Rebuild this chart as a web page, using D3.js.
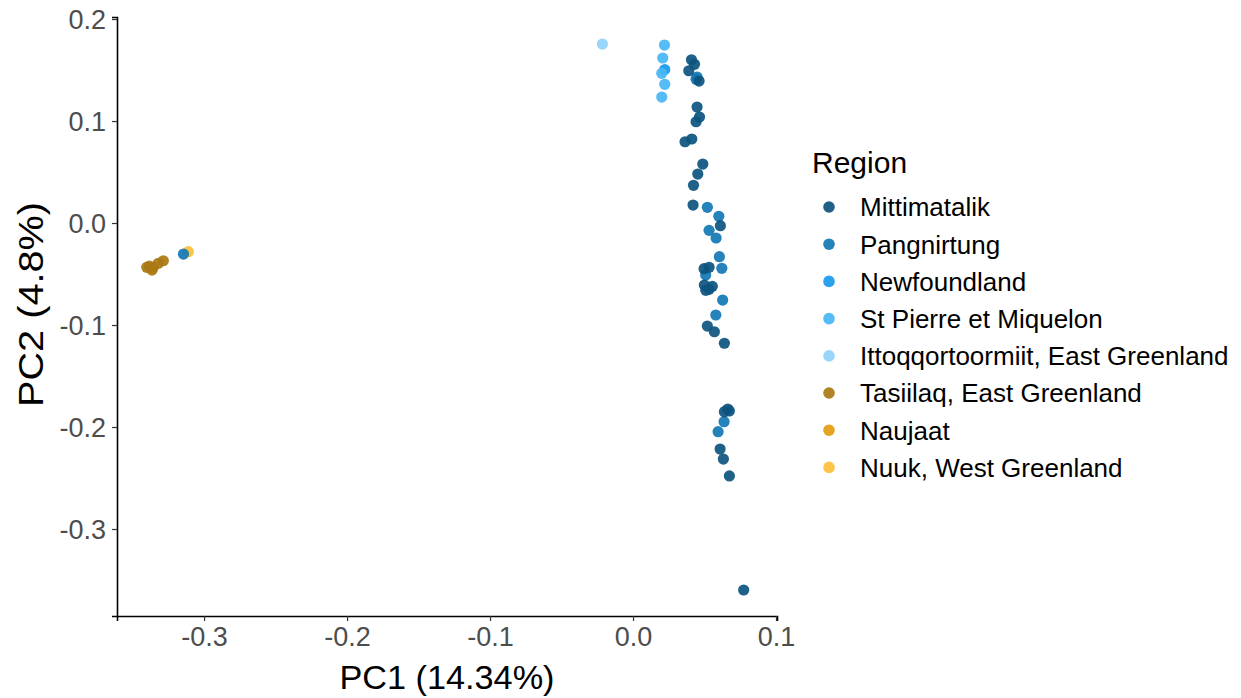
<!DOCTYPE html>
<html>
<head>
<meta charset="utf-8">
<script src="https://cdn.jsdelivr.net/npm/d3@7"></script>
<style>
  html, body { margin: 0; padding: 0; background: #fff; }
  svg { display: block; font-family: "Liberation Sans", Arial, Helvetica, sans-serif; }
</style>
</head>
<body>
<svg id="chart" width="1241" height="698"></svg>
<script>
// Regions in legend order, with their colours
const regions = [
  "Mittimatalik",
  "Pangnirtung",
  "Newfoundland",
  "St Pierre et Miquelon",
  "Ittoqqortoormiit, East Greenland",
  "Tasiilaq, East Greenland",
  "Naujaat",
  "Nuuk, West Greenland"
];
const regionColors = [
  "#0c547e", "#1277b5", "#1899ea", "#47b6f5",
  "#8fd2fc", "#aa7812", "#e59c0e", "#fdbf38"
];

// PCA scores per region: [PC1, PC2]
const mittimatalik = [
  [0.0409, 0.1601], [0.0430, 0.1556], [0.0390, 0.1493], [0.0462, 0.1392],
  [0.0448, 0.1137], [0.0465, 0.1039], [0.0441, 0.0993], [0.0411, 0.0824],
  [0.0364, 0.0797], [0.0488, 0.0578], [0.0453, 0.0480], [0.0423, 0.0370],
  [0.0420, 0.0176], [0.0611, -0.0026], [0.0497, -0.0448], [0.0532, -0.0434],
  [0.0499, -0.0608], [0.0555, -0.0621], [0.0509, -0.0660], [0.0532, -0.0650],
  [0.0520, -0.1010], [0.0569, -0.1066], [0.0639, -0.1179], [0.0663, -0.1824],
  [0.0674, -0.1843], [0.0639, -0.1850], [0.0609, -0.2216], [0.0632, -0.2314],
  [0.0674, -0.2480], [0.0774, -0.3598]
];
const pangnirtung = [
  [0.0448, 0.1431], [0.0441, 0.1409], [0.0520, 0.0154], [0.0600, 0.0066],
  [0.0532, -0.0072], [0.0581, -0.0147], [0.0604, -0.0330], [0.0621, -0.0444],
  [0.0508, -0.0510], [0.0627, -0.0755], [0.0579, -0.0902], [0.0637, -0.1948],
  [0.0595, -0.2046], [-0.3144, -0.0304]
];
const newfoundland = [[0.0222, 0.1505]];
const stPierre = [
  [0.0220, 0.1745], [0.0208, 0.1618], [0.0201, 0.1468],
  [0.0222, 0.1360], [0.0201, 0.1235]
];
const ittoqqortoormiit = [[-0.0214, 0.1755]];
const tasiilaq = [
  [-0.3401, -0.0434], [-0.3383, -0.0422], [-0.3355, -0.0434],
  [-0.3364, -0.0461], [-0.3320, -0.0395], [-0.3285, -0.0370]
];
const naujaat = [[-0.3371, -0.0441]];
const nuuk = [[-0.3110, -0.0281]];

const xTicks = [-0.3, -0.2, -0.1, 0.0, 0.1];
const yTicks = [0.2, 0.1, 0.0, -0.1, -0.2, -0.3];
const xTitle = "PC1 (14.34%)";
const yTitle = "PC2 (4.8%)";
const legendTitle = "Region";

// Drawing order (later groups sit on top)
const groups = [
  { region: "Nuuk, West Greenland", pts: nuuk },
  { region: "Naujaat", pts: naujaat },
  { region: "Tasiilaq, East Greenland", pts: tasiilaq },
  { region: "Ittoqqortoormiit, East Greenland", pts: ittoqqortoormiit },
  { region: "Newfoundland", pts: newfoundland },
  { region: "St Pierre et Miquelon", pts: stPierre },
  { region: "Pangnirtung", pts: pangnirtung },
  { region: "Mittimatalik", pts: mittimatalik }
];

const color = d3.scaleOrdinal().domain(regions).range(regionColors);

const svg = d3.select("#chart");
const panel = { left: 117, right: 777, top: 17, bottom: 616 };

const x = d3.scaleLinear().domain([-0.3609, 0.1007]).range([panel.left, panel.right]);
const y = d3.scaleLinear().domain([-0.3853, 0.2020]).range([panel.bottom, panel.top]);

// Plain hyphen-minus, one decimal
const fmt = v => v.toFixed(1);

// Points
const pts = groups.flatMap(g => g.pts.map(p => ({ region: g.region, pc1: p[0], pc2: p[1] })));
svg.append("g")
  .selectAll("circle")
  .data(pts)
  .join("circle")
  .attr("cx", d => x(d.pc1))
  .attr("cy", d => y(d.pc2))
  .attr("r", 5.6)
  .attr("fill", d => color(d.region))
  .attr("fill-opacity", 0.92);

// Axes
const xAxis = svg.append("g")
  .attr("transform", `translate(0,${panel.bottom})`)
  .call(d3.axisBottom(x).tickValues(xTicks).tickFormat(fmt).tickSizeOuter(0).tickSize(5).tickPadding(6));
const yAxis = svg.append("g")
  .attr("transform", `translate(${panel.left},0)`)
  .call(d3.axisLeft(y).tickValues(yTicks).tickFormat(fmt).tickSizeOuter(0).tickSize(5).tickPadding(6));

[xAxis, yAxis].forEach(a => {
  a.select(".domain").attr("stroke", "#000").attr("stroke-width", 1.6);
  a.selectAll(".tick line").attr("stroke", "#333").attr("stroke-width", 1.2);
  a.selectAll(".tick text")
    .attr("fill", "#4d4d4d")
    .style("font-size", "27px")
    .style("font-family", "'Liberation Sans', Arial, sans-serif");
});
xAxis.selectAll(".tick text").attr("dy", "0.71em");
yAxis.selectAll(".tick text").attr("dy", "0.36em");

// Axis titles
svg.append("text")
  .attr("x", (panel.left + panel.right) / 2)
  .attr("y", 689)
  .attr("text-anchor", "middle")
  .attr("textLength", 215)
  .attr("lengthAdjust", "spacingAndGlyphs")
  .style("font-size", "34px")
  .attr("fill", "#000")
  .text(xTitle);

svg.append("text")
  .attr("transform", `translate(43,${(panel.top + panel.bottom) / 2 - 12}) rotate(-90)`)
  .attr("text-anchor", "middle")
  .attr("textLength", 205)
  .attr("lengthAdjust", "spacingAndGlyphs")
  .style("font-size", "35px")
  .attr("fill", "#000")
  .text(yTitle);

// Legend
const legend = svg.append("g").attr("transform", "translate(812,0)");
legend.append("text")
  .attr("x", 0)
  .attr("y", 173)
  .style("font-size", "30px")
  .attr("fill", "#000")
  .text(legendTitle);

const item = legend.selectAll("g.item")
  .data(regions)
  .join("g")
  .attr("class", "item")
  .attr("transform", (d, i) => `translate(0,${207 + i * 37.2})`);
item.append("circle")
  .attr("cx", 17)
  .attr("cy", 0)
  .attr("r", 5.8)
  .attr("fill", d => color(d))
  .attr("fill-opacity", 0.92);
item.append("text")
  .attr("x", 48)
  .attr("y", 0)
  .attr("dy", "0.36em")
  .style("font-size", "26px")
  .attr("fill", "#000")
  .text(d => d);
</script>
</body>
</html>
